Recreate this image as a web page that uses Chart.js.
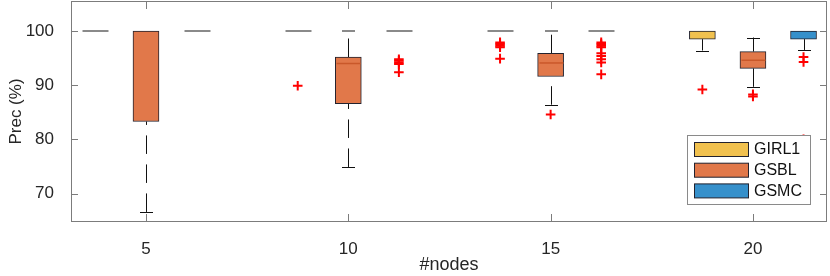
<!DOCTYPE html>
<html>
<head>
<meta charset="utf-8">
<script src="https://cdn.jsdelivr.net/npm/chart.js@4.4.1/dist/chart.umd.min.js"></script>
<style>
  html, body { margin: 0; padding: 0; background: #fff; }
  canvas { display: block; }
</style>
</head>
<body>
<canvas id="chart" width="830" height="276"></canvas>
<script>
const groupLabels = [5, 10, 15, 20];
const yTickValues = [70, 80, 90, 100];
const seriesNames = ["GIRL1", "GSBL", "GSMC"];

const girl1Low = [100, 100, 100, 96.4];
const girl1Q1 = [100, 100, 100, 98.5];
const girl1Median = [100, 100, 100, 100];
const girl1Q3 = [100, 100, 100, 100];
const girl1High = [100, 100, 100, 100];
const girl1Outliers = [[], [89.9], [97.9, 97.6, 97.3, 97.0, 94.9], [89.2]];

const gsblLow = [66.6, 74.9, 86.4, 89.7];
const gsblQ1 = [83.3, 86.6, 91.6, 93.1];
const gsblMedian = [100, 94.0, 94.1, 94.6];
const gsblQ3 = [100, 95.2, 95.9, 96.2];
const gsblHigh = [100, 100, 100, 98.8];
const gsblOutliers = [[], [], [84.6], [88.3, 87.9]];

const gsmcLow = [100, 100, 100, 96.5];
const gsmcQ1 = [100, 100, 100, 98.5];
const gsmcMedian = [100, 100, 100, 100];
const gsmcQ3 = [100, 100, 100, 100];
const gsmcHigh = [100, 100, 100, 100];
const gsmcOutliers = [
  [],
  [94.8, 94.5, 94.2, 93.9, 92.4],
  [97.9, 97.6, 97.3, 97.0, 95.9, 95.4, 94.8, 94.2, 92.0],
  [95.2, 94.3, 80.0]
];

// position of each series inside a group, in #nodes units
const seriesOffsets = [-1.25, 0, 1.25];
const fillColors = ["#f1c14f", "#e1784a", "#3690cb"];
const medianColors = ["#d9a21c", "#c9582a", "#1f6fae"];

const series = [
  { low: girl1Low, q1: girl1Q1, med: girl1Median, q3: girl1Q3, high: girl1High, out: girl1Outliers },
  { low: gsblLow, q1: gsblQ1, med: gsblMedian, q3: gsblQ3, high: gsblHigh, out: gsblOutliers },
  { low: gsmcLow, q1: gsmcQ1, med: gsmcMedian, q3: gsmcQ3, high: gsmcHigh, out: gsmcOutliers }
];

const BOX_HALF = 13;
const CAP_HALF = 6.5;
const textColor = "#262626";
const fontFamily = "'Liberation Sans', Arial, Helvetica, sans-serif";
const topValue = yTickValues[yTickValues.length - 1];

const outlierPoints = [];
series.forEach((s, i) => {
  s.out.forEach((vals, j) => {
    vals.forEach((v) => outlierPoints.push({ x: groupLabels[j] + seriesOffsets[i], y: v }));
  });
});

const boxDatasets = series.map((s, i) => ({
  type: "bar",
  label: seriesNames[i],
  data: groupLabels.map((g, j) => ({
    x: g + seriesOffsets[i],
    y: s.q1[j] < s.q3[j] ? [s.q1[j], s.q3[j]] : null
  })),
  backgroundColor: fillColors[i],
  borderColor: "#22222e",
  borderWidth: 1,
  borderSkipped: false,
  barThickness: 26,
  grouped: false,
  order: 2
}));

const noPadding = (scale) => {
  scale.paddingTop = 0;
  scale.paddingBottom = 0;
  scale.paddingLeft = 0;
  scale.paddingRight = 0;
};

const hLine = (ctx, x0, x1, y) => {
  ctx.beginPath();
  ctx.moveTo(x0, y);
  ctx.lineTo(x1, y);
  ctx.stroke();
};

const whiskerPlugin = {
  id: "whiskers",
  beforeDatasetsDraw(chart) {
    const ctx = chart.ctx;
    const xs = chart.scales.x;
    const ys = chart.scales.y;
    ctx.save();
    ctx.strokeStyle = "#111";
    ctx.lineWidth = 1;
    ctx.setLineDash([18.5, 10.5]);
    series.forEach((s, i) => {
      groupLabels.forEach((g, j) => {
        const px = Math.round(xs.getPixelForValue(g + seriesOffsets[i])) + 0.5;
        if (s.low[j] < s.q1[j]) {
          ctx.beginPath();
          ctx.moveTo(px, ys.getPixelForValue(s.low[j]));
          ctx.lineTo(px, ys.getPixelForValue(s.q1[j]));
          ctx.stroke();
        }
        if (s.high[j] > s.q3[j]) {
          ctx.beginPath();
          ctx.moveTo(px, ys.getPixelForValue(s.q3[j]));
          ctx.lineTo(px, ys.getPixelForValue(s.high[j]));
          ctx.stroke();
        }
      });
    });
    ctx.restore();
  },
  afterDatasetsDraw(chart) {
    const ctx = chart.ctx;
    const xs = chart.scales.x;
    const ys = chart.scales.y;
    ctx.save();
    series.forEach((s, i) => {
      groupLabels.forEach((g, j) => {
        const px = Math.round(xs.getPixelForValue(g + seriesOffsets[i])) + 0.5;
        const isFlat = s.q1[j] === s.q3[j];
        // whisker caps (the ones on the top value render as soft grey lines)
        [s.low[j], s.high[j]].forEach((v) => {
          if (!isFlat && (v === s.q3[j] || v === s.q1[j])) {
            return;
          }
          const py = Math.round(ys.getPixelForValue(v));
          if (v === topValue) {
            ctx.strokeStyle = "#8a8a8a";
            ctx.lineWidth = 2;
            hLine(ctx, px - CAP_HALF, px + CAP_HALF, py);
          } else {
            ctx.strokeStyle = "#111";
            ctx.lineWidth = 1;
            hLine(ctx, px - CAP_HALF, px + CAP_HALF, py + 0.5);
          }
        });
        const pm = ys.getPixelForValue(s.med[j]);
        if (isFlat) {
          ctx.strokeStyle = "#8a8a8a";
          ctx.lineWidth = 2;
          hLine(ctx, px - BOX_HALF, px + BOX_HALF, Math.round(pm));
        } else if (s.med[j] < s.q3[j]) {
          ctx.strokeStyle = medianColors[i];
          ctx.lineWidth = 1.5;
          hLine(ctx, px - BOX_HALF + 1, px + BOX_HALF - 1, pm);
        }
      });
    });
    ctx.restore();
  },
  afterDraw(chart) {
    const ctx = chart.ctx;
    const area = chart.chartArea;
    const xs = chart.scales.x;
    const ys = chart.scales.y;
    ctx.save();
    // axes box and inward ticks
    ctx.strokeStyle = "#7c7c7c";
    ctx.lineWidth = 1;
    ctx.strokeRect(area.left + 0.5, area.top + 0.5, area.right - area.left - 1, area.bottom - area.top - 1);
    ctx.beginPath();
    groupLabels.forEach((g) => {
      const px = Math.round(xs.getPixelForValue(g)) + 0.5;
      ctx.moveTo(px, area.bottom);
      ctx.lineTo(px, area.bottom - 8);
      ctx.moveTo(px, area.top);
      ctx.lineTo(px, area.top + 8);
    });
    yTickValues.forEach((v) => {
      const py = Math.round(ys.getPixelForValue(v)) + 0.5;
      ctx.moveTo(area.left, py);
      ctx.lineTo(area.left + 7, py);
      ctx.moveTo(area.right, py);
      ctx.lineTo(area.right - 7, py);
    });
    ctx.stroke();

    // legend
    const lx = 687, ly = 135, lw = 123, lh = 69;
    ctx.fillStyle = "#fff";
    ctx.fillRect(lx, ly, lw, lh);
    ctx.strokeStyle = "#8a8a8a";
    ctx.strokeRect(lx + 0.5, ly + 0.5, lw, lh);
    ctx.font = "16px " + fontFamily;
    ctx.textBaseline = "middle";
    seriesNames.forEach((name, i) => {
      const rowY = ly + 7 + i * 20.7;
      ctx.fillStyle = fillColors[i];
      ctx.fillRect(lx + 7.5, rowY + 0.5, 54, 14);
      ctx.strokeStyle = "#22222e";
      ctx.strokeRect(lx + 7.5, rowY + 0.5, 54, 14);
      ctx.fillStyle = "#111";
      ctx.fillText(name, lx + 67, rowY + 8);
    });
    ctx.restore();
  }
};

new Chart(document.getElementById("chart"), {
  type: "bar",
  data: {
    datasets: [
      {
        type: "scatter",
        label: "outliers",
        data: outlierPoints,
        pointStyle: "cross",
        pointRadius: 4.8,
        pointBorderWidth: 2,
        borderColor: "#ff0000",
        backgroundColor: "#ff0000",
        order: 1
      },
      ...boxDatasets
    ]
  },
  options: {
    responsive: false,
    animation: false,
    events: [],
    layout: { autoPadding: false, padding: { top: 1, right: 3, left: 0, bottom: 0 } },
    plugins: {
      legend: { display: false },
      tooltip: { enabled: false }
    },
    scales: {
      x: {
        type: "linear",
        offset: false,
        min: 3.147,
        max: 21.83,
        afterBuildTicks: (scale) => {
          scale.ticks = groupLabels.map((v) => ({ value: v }));
        },
        afterFit: (scale) => {
          scale.height = 54;
          noPadding(scale);
        },
        grid: { display: false, offset: false },
        border: { display: false },
        ticks: {
          color: textColor,
          padding: 9,
          maxRotation: 0,
          font: { family: fontFamily, size: 17 }
        },
        title: {
          display: true,
          text: "#nodes",
          color: textColor,
          font: { family: fontFamily, size: 18 },
          padding: { top: 0, bottom: 0 }
        }
      },
      y: {
        min: 64.74,
        max: 105.54,
        afterBuildTicks: (scale) => {
          scale.ticks = yTickValues.map((v) => ({ value: v }));
        },
        afterFit: (scale) => {
          scale.width = 71;
          noPadding(scale);
        },
        grid: { display: false },
        border: { display: false },
        ticks: {
          color: textColor,
          padding: 9,
          font: { family: fontFamily, size: 17 }
        },
        title: {
          display: true,
          text: "Prec (%)",
          color: textColor,
          font: { family: fontFamily, size: 17 },
          padding: { top: 6, bottom: 0 }
        }
      }
    }
  },
  plugins: [whiskerPlugin]
});
</script>
</body>
</html>
